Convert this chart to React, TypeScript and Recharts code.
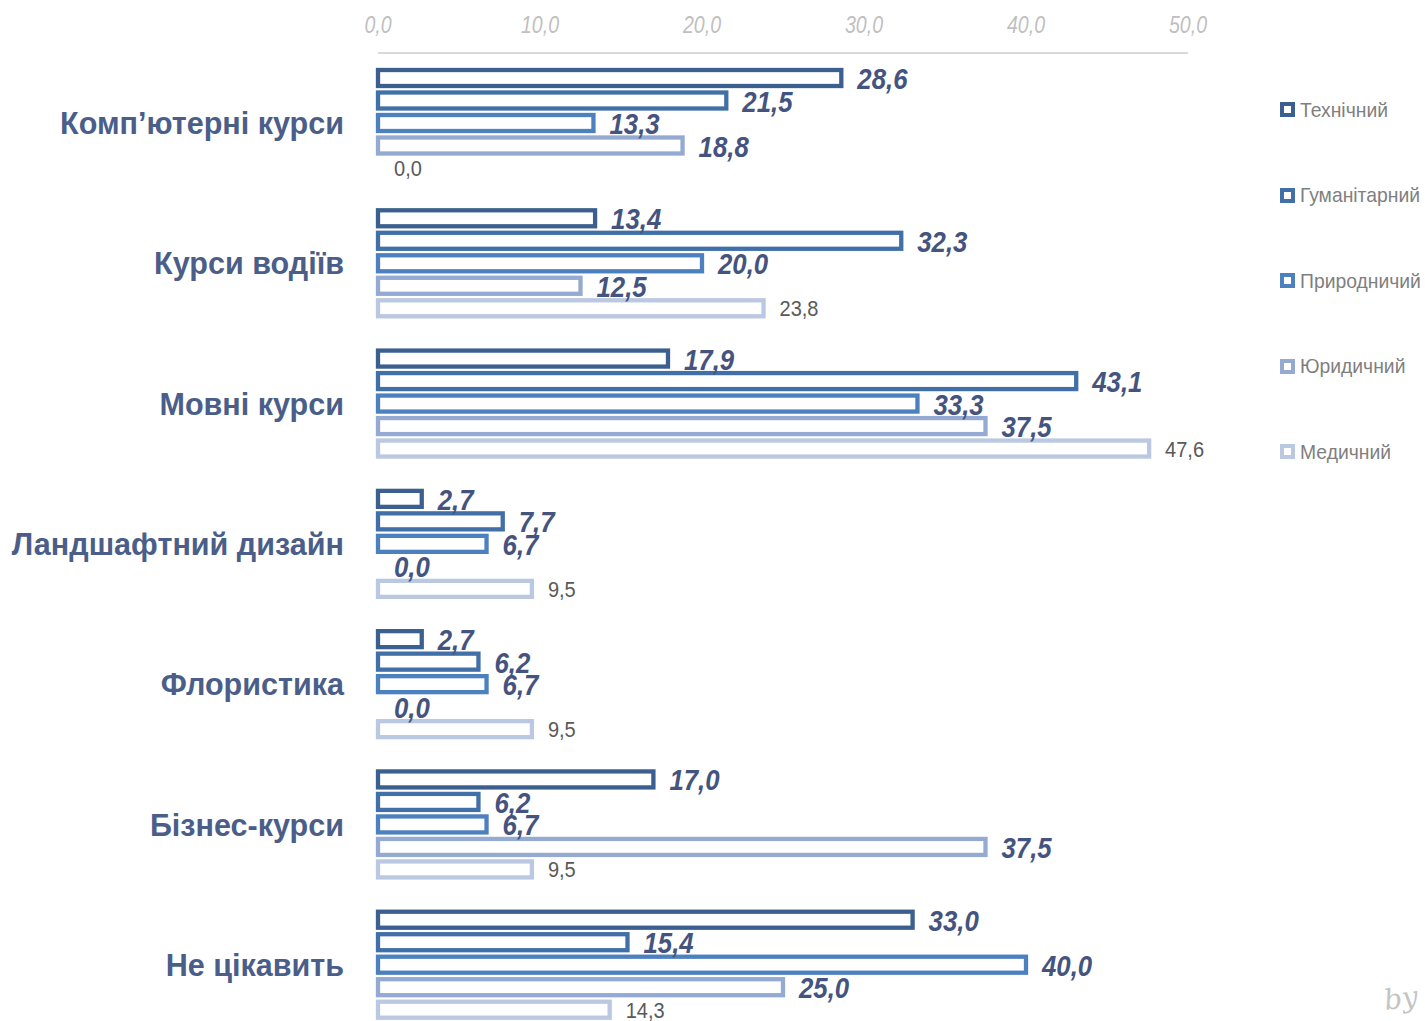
import React from 'react';
import { BarChart, Bar, XAxis, YAxis, LabelList } from 'recharts';

const categories = [
  'Комп\u2019ютерні курси',
  'Курси водіїв',
  'Мовні курси',
  'Ландшафтний дизайн',
  'Флористика',
  'Бізнес-курси',
  'Не цікавить',
];

const seriesNames = ['Технічний', 'Гуманітарний', 'Природничий', 'Юридичний', 'Медичний'];
const technical = [28.6, 13.4, 17.9, 2.7, 2.7, 17.0, 33.0];
const humanities = [21.5, 32.3, 43.1, 7.7, 6.2, 6.2, 15.4];
const natural = [13.3, 20.0, 33.3, 6.7, 6.7, 6.7, 40.0];
const legal = [18.8, 12.5, 37.5, 0.0, 0.0, 37.5, 25.0];
const medical = [0.0, 23.8, 47.6, 9.5, 9.5, 9.5, 14.3];
const xTicks = [0, 10, 20, 30, 40, 50];

const colors = ['#3B5F8F', '#4170A8', '#4D80BE', '#94AAD2', '#BAC8E2'];
const keys = ['s0', 's1', 's2', 's3', 's4'];

const data = categories.map((c, i) => ({
  name: c,
  s0: technical[i],
  s1: humanities[i],
  s2: natural[i],
  s3: legal[i],
  s4: medical[i],
}));

const FONT = '"Liberation Sans", Arial, sans-serif';
const fmt = (v: any) => Number(v).toFixed(1).replace('.', ',');

const XTick = (props: any) => {
  const { x, y, payload } = props;
  return (
    <g transform={`translate(${x},${y}) scale(0.85,1)`}>
      <text x={0} y={0} textAnchor="middle" fill="#BFBFBF" fontSize={23} fontStyle="italic" fontFamily={FONT}>
        {fmt(payload.value)}
      </text>
    </g>
  );
};

const YTick = (props: any) => {
  const { x, y, payload } = props;
  return (
    <g transform={`translate(${x},${y}) scale(0.955,1)`}>
      <text x={0} y={0} dy={11} textAnchor="end" fill="#4A5E89" fontSize={32} fontWeight="bold" fontFamily={FONT}>
        {payload.value}
      </text>
    </g>
  );
};

const makeLabel = (i: number) => (props: any) => {
  const { x, y, width, height, value } = props;
  const lx = Number(x) + Number(width) + 16;
  const ly = Number(y) + Number(height) / 2;
  if (i < 4) {
    return (
      <g transform={`translate(${lx},${ly}) scale(0.86,1)`}>
        <text x={0} y={0} dy={11} fill="#44547F" fontSize={30} fontWeight="bold" fontStyle="italic" fontFamily={FONT}>
          {fmt(value)}
        </text>
      </g>
    );
  }
  return (
    <g transform={`translate(${lx},${ly}) scale(0.91,1)`}>
      <text x={0} y={0} dy={8} fill="#595959" fontSize={22} fontFamily={FONT}>
        {fmt(value)}
      </text>
    </g>
  );
};

const makeShape = (i: number) => (props: any) => {
  const { x, y, width, height } = props;
  if (!width || Math.abs(width) < 0.5) return <g />;
  return <rect x={x} y={y} width={width} height={height} fill="#FFFFFF" stroke={colors[i]} strokeWidth={4.3} />;
};

const LegendBox = () => (
  <div style={{ position: 'absolute', left: 1280, top: 67, fontFamily: FONT }}>
    {seriesNames.map((n, i) => (
      <div key={n} style={{ display: 'flex', alignItems: 'center', height: 85.5 }}>
        <div
          style={{
            width: 15,
            height: 15,
            boxSizing: 'border-box',
            border: `4.5px solid ${colors[i]}`,
            background: '#fff',
            marginRight: 5,
            flexShrink: 0,
          }}
        />
        <span
          style={{
            color: '#7F7F7F',
            fontSize: 21,
            whiteSpace: 'nowrap',
            display: 'inline-block',
            transform: 'scaleX(0.92)',
            transformOrigin: 'left center',
          }}
        >
          {n}
        </span>
      </div>
    ))}
  </div>
);

export default function App() {
  return (
    <div
      style={{
        position: 'fixed',
        left: 0,
        top: 0,
        width: 1425,
        height: 1021,
        overflow: 'hidden',
        background: '#fff',
      }}
    >
      <BarChart
        width={1425}
        height={1040}
        data={data}
        layout="vertical"
        margin={{ top: 0, right: 237, bottom: 5, left: 0 }}
        barSize={16}
        barGap={6.5}
      >
        <XAxis
          type="number"
          orientation="top"
          domain={[0, 50]}
          ticks={xTicks}
          height={53}
          tickSize={0}
          tickMargin={20}
          axisLine={{ stroke: '#D9D9D9', strokeWidth: 2 }}
          tickLine={false}
          tick={<XTick />}
          interval={0}
        />
        <YAxis
          type="category"
          dataKey="name"
          width={378}
          tickSize={0}
          tickMargin={34}
          axisLine={false}
          tickLine={false}
          interval={0}
          tick={<YTick />}
        />
        {keys.map((k, i) => (
          <Bar
            key={k}
            dataKey={k}
            name={seriesNames[i]}
            fill="#FFFFFF"
            stroke={colors[i]}
            strokeWidth={4}
            minPointSize={0.01}
            shape={makeShape(i)}
            isAnimationActive={false}
          >
            <LabelList dataKey={k} content={makeLabel(i)} />
          </Bar>
        ))}
      </BarChart>
      <LegendBox />
      <div
        style={{
          position: 'absolute',
          left: 1384,
          top: 980,
          fontFamily: '"DejaVu Serif", serif',
          fontStyle: 'italic',
          fontSize: 28,
          color: '#C4C4C4',
          transform: 'rotate(-8deg)',
          whiteSpace: 'nowrap',
        }}
      >
        by с
      </div>
    </div>
  );
}
